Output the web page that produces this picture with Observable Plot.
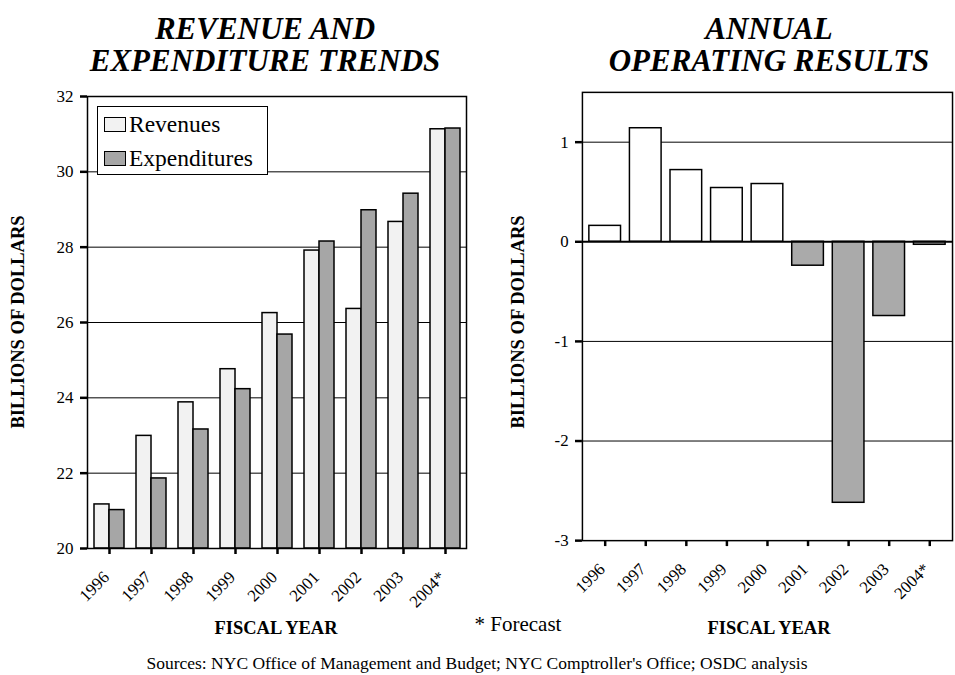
<!DOCTYPE html>
<html>
<head>
<meta charset="utf-8">
<script src="https://cdn.jsdelivr.net/npm/d3@7"></script>
<script src="https://cdn.jsdelivr.net/npm/@observablehq/plot@0.6"></script>
<style>
  html, body { margin: 0; padding: 0; overflow: hidden; background: #fff; }
  #wrap { position: relative; width: 955px; height: 675px; overflow: hidden; background: #fff;
          font-family: "Liberation Serif", "Times New Roman", serif; color: #000; }
  .abs { position: absolute; white-space: nowrap; }
  .title { font-weight: bold; font-style: italic; font-size: 31px; line-height: 32px; text-align: center; width: 460px; }
  .ylab { font-weight: bold; font-size: 18.5px; transform: translate(-50%, -50%) rotate(-90deg); }
  .xlab { font-weight: bold; font-size: 18.5px; transform: translate(-50%, -50%); }
  .note { font-size: 21px; transform: translate(-50%, -50%); }
  .src { font-size: 17.5px; transform: translate(-50%, -50%); }
  .legend { border: 1.5px solid #000; background: #fff; box-sizing: border-box; padding: 0 0 0 6px;
            font-family: "Liberation Serif", "Times New Roman", serif; }
  .legend .row { display: flex; align-items: center; height: 34px; font-size: 23.5px; }
  .legend .sw { width: 22px; height: 15px; border: 1.5px solid #000; box-sizing: border-box; margin-right: 3px; }
  #left, #right { position: absolute; top: 80px; }
  #left { left: 0; }
  #right { left: 480px; }
</style>
</head>
<body>
<div id="wrap">
  <div class="abs title" style="left:35px; top:13px;">REVENUE AND</div>
  <div class="abs title" style="left:35px; top:45px;">EXPENDITURE TRENDS</div>
  <div class="abs title" style="left:539px; top:13px;">ANNUAL</div>
  <div class="abs title" style="left:539px; top:45px;">OPERATING RESULTS</div>
  <div id="left"></div>
  <div id="right"></div>
  <div class="abs ylab" style="left:18px; top:322px;">BILLIONS OF DOLLARS</div>
  <div class="abs ylab" style="left:518px; top:322px;">BILLIONS OF DOLLARS</div>
  <div class="abs xlab" style="left:276px; top:628px;">FISCAL YEAR</div>
  <div class="abs xlab" style="left:769px; top:628px;">FISCAL YEAR</div>
  <div class="abs note" style="left:518px; top:624px;">* Forecast</div>
  <div class="abs src" style="left:477px; top:663px;">Sources: NYC Office of Management and Budget; NYC Comptroller's Office; OSDC analysis</div>
  <div class="abs legend" id="legend" style="left:97px; top:106px; width:171px; height:69px;"></div>
</div>
<script>
// ---- data ----
const years = ["1996", "1997", "1998", "1999", "2000", "2001", "2002", "2003", "2004*"];
const revenues = [21.17, 22.99, 23.88, 24.76, 26.25, 27.91, 26.36, 28.67, 31.13];
const expenditures = [21.02, 21.86, 23.16, 24.23, 25.68, 28.15, 28.98, 29.42, 31.15];
const operatingResults = [0.16, 1.14, 0.72, 0.54, 0.58, -0.24, -2.62, -0.745, -0.03];
const leftTicks = [20, 22, 24, 26, 28, 30, 32];
const rightTicks = [-3, -2, -1, 0, 1];
const seriesNames = ["Revenues", "Expenditures"];
const seriesColors = ["#f2f2f2", "#a6a6a6"];

const trendRows = years.map((year, i) => ({year, rev: revenues[i], exp: expenditures[i]}));
const resultRows = years.map((year, i) => ({year, value: operatingResults[i]}));

const font = '"Liberation Serif", "Times New Roman", serif';
const baseStyle = {fontFamily: font, fontSize: "17px", color: "#000", background: "transparent", overflow: "visible"};

const leftMin = leftTicks[0];
const leftMax = leftTicks[leftTicks.length - 1];

// x axis: tick marks and rotated labels as two axis marks
const xTickMarks = () => Plot.axisX({tickSize: 6, strokeWidth: 2.5, tickFormat: () => "", label: null});
const xTickLabels = () => Plot.axisX({tickSize: 0, tickPadding: 23, tickRotate: -45, fontSize: 17, fontFamily: font, dx: -3, dy: 3, label: null});

const left = Plot.plot({
  width: 480, height: 530,
  marginTop: 16, marginLeft: 87, marginRight: 14, marginBottom: 62,
  style: baseStyle,
  x: {domain: years, paddingInner: 0.29, paddingOuter: 0.145, label: null},
  y: {domain: [leftMin, leftMax], label: null},
  marks: [
    Plot.ruleY(leftTicks.slice(1, -1), {stroke: "#000", strokeWidth: 1}),
    Plot.barY(trendRows, {x: "year", y1: leftMin, y2: "rev", fill: seriesColors[0], stroke: "#000", strokeWidth: 1.5, insetRight: 15}),
    Plot.barY(trendRows, {x: "year", y1: leftMin, y2: "exp", fill: seriesColors[1], stroke: "#000", strokeWidth: 1.5, insetLeft: 15}),
    Plot.frame({stroke: "#000", strokeWidth: 1.5}),
    Plot.axisY(leftTicks, {tickSize: 7, tickPadding: 7, strokeWidth: 2.5, fontSize: 17, fontFamily: font, label: null}),
    xTickMarks(),
    xTickLabels()
  ]
});
document.getElementById("left").appendChild(left);

const right = Plot.plot({
  width: 480, height: 530,
  marginTop: 12, marginLeft: 103, marginRight: 3, marginBottom: 65,
  style: baseStyle,
  x: {domain: years, paddingInner: 0.23, paddingOuter: 0.115, label: null},
  y: {domain: [-3, 1.5], label: null},
  marks: [
    Plot.ruleY(rightTicks.filter(t => t !== 0 && t !== -3), {stroke: "#000", strokeWidth: 1}),
    Plot.barY(resultRows, {filter: d => d.value >= 0, x: "year", y1: 0, y2: "value", fill: "#ffffff", stroke: "#000", strokeWidth: 1.5}),
    Plot.barY(resultRows, {filter: d => d.value < 0, x: "year", y1: 0, y2: "value", fill: "#aaaaaa", stroke: "#000", strokeWidth: 1.5}),
    Plot.ruleY([0], {stroke: "#000", strokeWidth: 2}),
    Plot.frame({stroke: "#000", strokeWidth: 1.5}),
    Plot.axisY(rightTicks, {tickSize: 7, tickPadding: 7, strokeWidth: 2.5, fontSize: 17, fontFamily: font, tickFormat: d => String(d), label: null}),
    xTickMarks(),
    xTickLabels()
  ]
});
document.getElementById("right").appendChild(right);

// legend
const legend = document.getElementById("legend");
seriesNames.forEach((name, i) => {
  const row = document.createElement("div");
  row.className = "row";
  const sw = document.createElement("div");
  sw.className = "sw";
  sw.style.background = seriesColors[i];
  const label = document.createElement("span");
  label.textContent = name;
  row.appendChild(sw);
  row.appendChild(label);
  legend.appendChild(row);
});
</script>
</body>
</html>
